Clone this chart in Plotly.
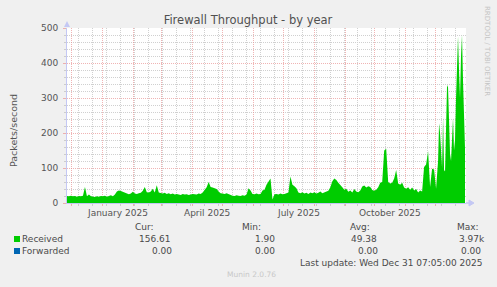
import pandas as pd
import plotly.graph_objects as go

# ---------------- data ----------------
start = pd.Timestamp("2024-11-26 07:05")
end = pd.Timestamp("2025-12-31 07:05")

# Received packets/second, one value every 2 days from the start (days 0..370)
received_2day = [
    20, 19, 21, 19, 20, 18, 20, 19, 21, 46,
    19, 24, 19, 18, 17, 19, 18, 20, 19, 21,
    18, 20, 22, 19, 24, 33, 36, 34, 32, 28,
    27, 25, 27, 32, 27, 26, 28, 29, 35, 46,
    31, 30, 33, 41, 30, 51, 30, 28, 27, 29,
    26, 28, 25, 27, 24, 26, 25, 23, 26, 24,
    25, 23, 24, 26, 25, 24, 27, 26, 30, 38,
    45, 60, 46, 44, 42, 40, 33, 28, 27, 26,
    28, 25, 23, 21, 20, 22, 21, 20, 22, 21,
    24, 42, 36, 26, 25, 27, 25, 26, 36, 38,
    52, 60, 70, 10, 25, 26, 24, 27, 25, 26,
    28, 30, 76, 52, 48, 42, 30, 28, 31, 27,
    29, 26, 30, 28, 31, 27, 29, 33, 28, 30,
    32, 35, 45, 62, 70, 66, 58, 50, 45, 38,
    41, 32, 36, 30, 40, 33, 31, 36, 47, 50,
    44, 48, 46, 37, 35, 38, 45, 58, 60, 150,
    155, 60, 56, 58, 70, 94, 56, 52, 58, 44,
    41, 45, 38, 44, 36, 40, 30, 36, 33, 103,
    110, 148, 46, 98, 96, 41,
]
# Received, daily values for the last 28 days (days 372..399)
received_daily_end = [
    120, 228, 200, 150, 100, 246, 94, 90, 200, 337,
    330, 180, 141, 120, 200, 243, 150, 180, 300, 400,
    476, 380, 300, 420, 480, 350, 250, 157,
]

month_labels = ["January 2025", "April 2025", "July 2025", "October 2025"]
month_label_dates = ["2025-01-16", "2025-04-16", "2025-07-16", "2025-10-16"]

series_names = ["Received", "Forwarded"]
series_colors = ["#00CC00", "#0066B3"]
stat_headers = ["Cur:", "Min:", "Avg:", "Max:"]
stats_received = ["156.61", "1.90", "49.38", "3.97k"]
stats_forwarded = ["0.00", "0.00", "0.00", "0.00"]

# ---------------- build ----------------
dates_a = pd.date_range(start, periods=len(received_2day), freq="2D")
dates_b = pd.date_range(start + pd.Timedelta(days=372), periods=len(received_daily_end), freq="D")
dates = list(dates_a) + list(dates_b)
received = received_2day + received_daily_end
forwarded = [0.0] * len(received)

W, H = 497, 287
L, R, T, B = 67, 466, 28, 203


def px_x(px):
    return (px - L) / (R - L)


def px_y(py):
    return (B - py) / (B - T)


FONT = "DejaVu Sans"
TXT = "#4a4a4a"
AXIS = "#c4c8f4"
MAJ = "rgba(232,140,140,0.65)"
MIN = "#d0d0d0"
DASH = "1px,1px"

fig = go.Figure()
fig.add_trace(go.Scatter(
    x=dates, y=received, mode="lines", fill="tozeroy",
    line=dict(width=0, color=series_colors[0]), fillcolor=series_colors[0],
    name=series_names[0], hoverinfo="skip"))
fig.add_trace(go.Scatter(
    x=dates, y=forwarded, mode="lines", fill="tozeroy",
    line=dict(width=0, color=series_colors[1]), fillcolor=series_colors[1],
    name=series_names[1], hoverinfo="skip"))

fig.update_layout(
    width=W, height=H,
    margin=dict(l=L, r=W - R, t=T, b=H - B, pad=0),
    paper_bgcolor="#F0F0F0", plot_bgcolor="#FFFFFF",
    showlegend=False,
    font=dict(family=FONT, size=9, color=TXT),
    title=dict(text="Firewall Throughput - by year", x=248 / W, xref="container",
               y=1 - 20 / H, yref="container", xanchor="center", yanchor="middle",
               font=dict(family=FONT, size=11.5, color="#505050")),
    xaxis=dict(
        type="date", range=[start, end], autorange=False,
        tick0="2024-12-01", dtick="M1",
        showgrid=True, gridcolor=MAJ, griddash=DASH, gridwidth=1,
        showticklabels=False, ticks="outside", ticklen=2, tickcolor=MAJ,
        showline=True, linecolor=AXIS, linewidth=1, zeroline=False,
        minor=dict(tick0="2024-12-08", dtick=14 * 86400000, showgrid=True,
                   gridcolor=MIN, griddash=DASH, gridwidth=1,
                   ticks="outside", ticklen=2, tickcolor="#cccccc"),
        fixedrange=True,
    ),
    yaxis=dict(
        range=[0, 500], autorange=False, dtick=100, tick0=0,
        showgrid=True, gridcolor=MAJ, griddash=DASH, gridwidth=1,
        ticks="outside", ticklen=3, tickcolor=MAJ, ticklabelstandoff=3,
        tickfont=dict(family=FONT, size=9, color="#555555"),
        showline=True, linecolor=AXIS, linewidth=1, zeroline=False,
        minor=dict(dtick=20, showgrid=True, gridcolor=MIN, griddash=DASH,
                   gridwidth=1, ticks="outside", ticklen=2, tickcolor="#cccccc"),
        fixedrange=True,
    ),
)

ann = []
# month labels
for lab, d in zip(month_labels, month_label_dates):
    ann.append(dict(x=d, xref="x", y=px_y(213), yref="paper", text=lab,
                    showarrow=False, xanchor="center", yanchor="middle",
                    font=dict(family=FONT, size=9, color="#555555")))
# y axis title
ann.append(dict(x=px_x(13), xref="paper", y=px_y(131), yref="paper",
                text="Packets/second", textangle=-90, showarrow=False,
                xanchor="center", yanchor="middle",
                font=dict(family=FONT, size=9.5, color="#555555")))
# watermark
ann.append(dict(x=px_x(487), xref="paper", y=px_y(51), yref="paper",
                text="RRDTOOL / TOBI OETIKER", textangle=90, showarrow=False,
                xanchor="center", yanchor="middle",
                font=dict(family=FONT, size=7, color="#c4c4c4")))

# legend headers
header_left = [133, 240, 348, 455]
for h, xl in zip(stat_headers, header_left):
    ann.append(dict(x=px_x(xl), xref="paper", y=px_y(227), yref="paper", text=h,
                    showarrow=False, xanchor="left", yanchor="middle"))
# legend rows
row_y = [239, 251]
rows = [stats_received, stats_forwarded]
val_left = [[137, 253, 349, 457], [150, 253, 356, 459]]
for name, col, yy, vals, lefts in zip(series_names, series_colors, row_y, rows, val_left):
    ann.append(dict(x=px_x(20), xref="paper", y=px_y(yy), yref="paper", text=name,
                    showarrow=False, xanchor="left", yanchor="middle"))
    for v, xl in zip(vals, lefts):
        ann.append(dict(x=px_x(xl), xref="paper", y=px_y(yy), yref="paper", text=v,
                        showarrow=False, xanchor="left", yanchor="middle"))
ann.append(dict(x=px_x(298), xref="paper", y=px_y(263), yref="paper",
                text="Last update: Wed Dec 31 07:05:00 2025",
                showarrow=False, xanchor="left", yanchor="middle"))
ann.append(dict(x=px_x(225), xref="paper", y=px_y(274), yref="paper",
                text="Munin 2.0.76", showarrow=False, xanchor="left", yanchor="middle",
                font=dict(family=FONT, size=7.5, color="#c8c8c8")))
fig.update_layout(annotations=ann)

shapes = []
# legend colour squares
for col, yy in zip(series_colors, row_y):
    shapes.append(dict(type="rect", xref="paper", yref="paper",
                       xsizemode="pixel", ysizemode="pixel",
                       xanchor=px_x(14), yanchor=px_y(yy),
                       x0=0, x1=6, y0=-3, y1=3,
                       fillcolor=col, line=dict(width=0)))
# axis arrows
shapes.append(dict(type="path", xref="paper", yref="paper",
                   xsizemode="pixel", ysizemode="pixel", xanchor=0, yanchor=1,
                   path="M -3,1 L 3,1 L 0,7 Z", fillcolor=AXIS, line=dict(width=0)))
shapes.append(dict(type="path", xref="paper", yref="paper",
                   xsizemode="pixel", ysizemode="pixel", xanchor=1, yanchor=0,
                   path="M 0,0 L 3,0 Z M 3,-3 L 3,3 L 8,0 Z", fillcolor=AXIS,
                   line=dict(width=1, color=AXIS)))
fig.update_layout(shapes=shapes)

fig.write_html("out.html", config={"displayModeBar": False})
